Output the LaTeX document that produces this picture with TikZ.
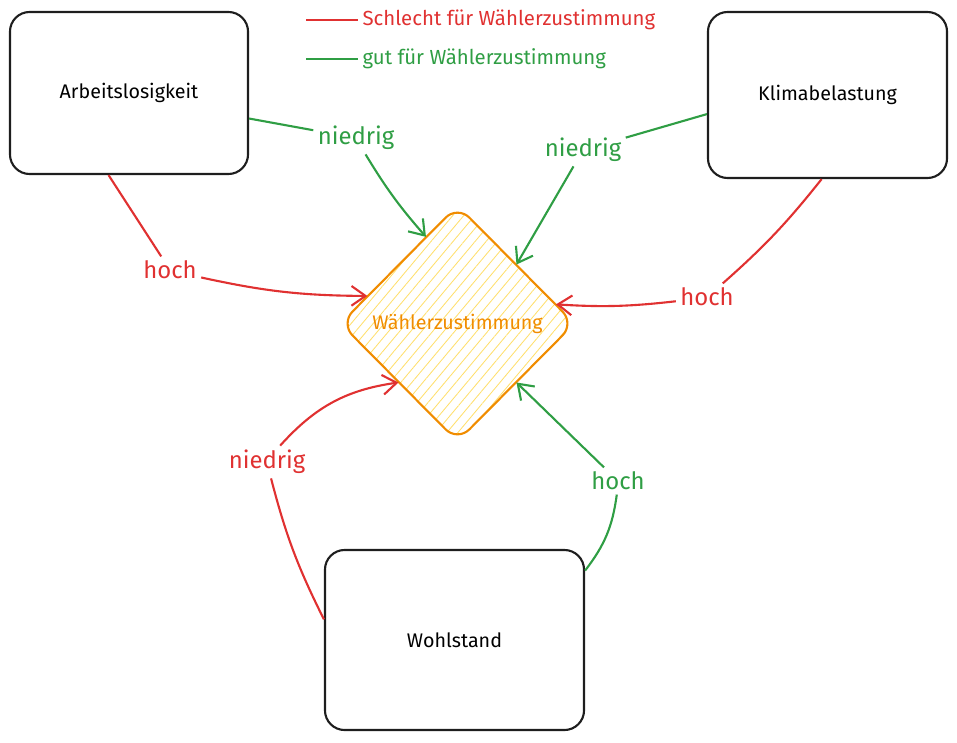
\documentclass[tikz,border=0pt]{standalone}
\usepackage{fontspec}
\setmainfont{Fira Sans}
\usetikzlibrary{shapes.geometric}
\usetikzlibrary{arrows.meta}
\usetikzlibrary{patterns.meta}
\definecolor{badred}{HTML}{E03131}
\definecolor{goodgreen}{HTML}{2F9E44}
\definecolor{voteorange}{HTML}{F08C00}
\definecolor{hatchyellow}{HTML}{FFD43B}
\definecolor{inkblack}{HTML}{1E1E1E}
\tikzset{factor/.style={draw=inkblack,line width=1.5pt,rounded corners=14pt,
                        font=\fontsize{14}{16}\selectfont}}
\tikzset{target/.style={diamond,draw=voteorange,line width=1.5pt,rounded corners=12pt,
                        pattern={Lines[angle=50,distance=6pt,line width=0.6pt]},
                        pattern color=hatchyellow!75,text=voteorange,inner sep=0pt,
                        minimum width=5.85cm,minimum height=5.9cm,
                        font=\fontsize{14}{16}\selectfont}}
\tikzset{effect/.style={inner sep=3pt,font=\fontsize{17}{19}\selectfont}}
\tikzset{legend/.style={anchor=west,inner sep=3pt,font=\fontsize{14.5}{17}\selectfont}}
\tikzset{link/.style={line width=1.5pt}}
\tikzset{tip/.style={link,-{Straight Barb[length=10pt,width=14pt]}}}

\begin{document}
\begin{tikzpicture}[x=0.025cm,y=-0.025cm]
    \useasboundingbox (0,0) rectangle (957,742);

    % legend
    \foreach \c/\txt/\y [count=\i] in {badred/Schlecht für Wählerzustimmung/20,
                                       goodgreen/gut für Wählerzustimmung/59}{
        \coordinate (leg\i a) at (306,\y);
        \node[legend,text=\c] (leg\i) at (358,\y) {\txt};
        \draw[link,\c] (leg\i a) -- (leg\i);
    }

    % factors
    \node[factor,minimum width=5.95cm,minimum height=4.05cm] (arb) at (129,93) {Arbeitslosigkeit};
    \node[factor,minimum width=5.975cm,minimum height=4.15cm] (klima) at (827.5,95) {Klimabelastung};
    \node[factor,minimum width=6.475cm,minimum height=4.5cm] (wohl) at (454.5,640) {Wohlstand};

    % voter approval
    \node[target] (wz) at (457.5,323.5) {Wählerzustimmung};

    % effect labels
    \foreach \name/\pos/\txt/\col in {e1/{(356,138)}/niedrig/goodgreen,
                                      e2/{(170,270)}/hoch/badred,
                                      e3/{(583,150)}/niedrig/goodgreen,
                                      e4/{(707,297)}/hoch/badred,
                                      e5/{(267,462)}/niedrig/badred,
                                      e6/{(618,481)}/hoch/goodgreen}{
        \node[effect,text=\col] (\name) at \pos {\txt};
    }

    % Arbeitslosigkeit
    \draw[link,goodgreen] (arb.-12) -- (e1);
    \draw[tip,goodgreen] (e1) to[bend right=5] (wz.110);
    \draw[link,badred] (arb.256) -- (e2);
    \draw[tip,badred] (e2) to[bend right=6] (wz.163);

    % Klimabelastung
    \draw[link,goodgreen] (klima.189) -- (e3);
    \draw[tip,goodgreen] (e3) -- (wz.45);
    \draw[link,badred] (klima.266) to[bend left=5] (e4);
    \draw[tip,badred] (e4) to[bend left=5] (wz.11);

    % Wohlstand
    \draw[link,badred] (wohl.171) to[bend left=6] (e5);
    \draw[tip,badred] (e5) to[bend left=20] (wz.225);
    \draw[link,goodgreen] (wohl.28) to[bend right=15] (e6);
    \draw[tip,goodgreen] (e6) -- (wz.315);
\end{tikzpicture}
\end{document}
